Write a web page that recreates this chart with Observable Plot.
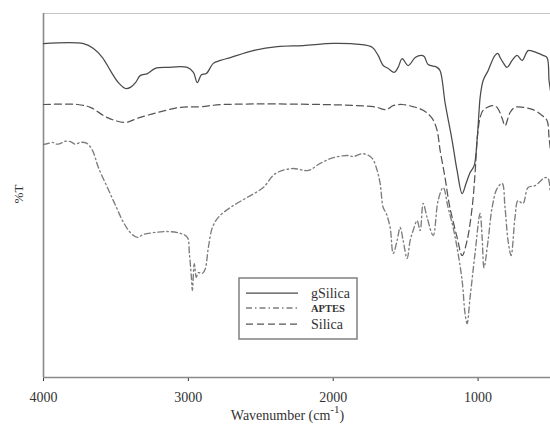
<!DOCTYPE html>
<html>
<head>
<meta charset="utf-8">
<script src="https://cdn.jsdelivr.net/npm/d3@7"></script>
<script src="https://cdn.jsdelivr.net/npm/@observablehq/plot@0.6"></script>
<style>
  html, body { margin: 0; padding: 0; background: #fff; }
  #wrap { position: relative; width: 550px; height: 425px; font-family: "Liberation Serif", "Times New Roman", serif; color: #333; }
  #xlabel { position: absolute; left: 0; width: 575px; text-align: center; top: 408px; font-size: 14px; line-height: 16px; }
  #xlabel sup { font-size: 11px; position: relative; top: -1px; line-height: 0; }
  #ylabel { position: absolute; left: 8px; top: 186px; font-size: 13px; transform: rotate(-90deg); transform-origin: center; width: 22px; text-align: center; }
  #legend { position: absolute; left: 238px; top: 277px; }
</style>
</head>
<body>
<div id="wrap"></div>
<script>
// Wavenumber axis (cm^-1) and tick labels
const xDomain = [4000, 500];
const xTicks = [4000, 3000, 2000, 1000];
const yDomain = [0, 100]; // %T (arbitrary scale, no tick labels)

// gSilica (solid)
const gSilicaWave = [4000,3724,3655,3593,3538,3483,3434,3400,3365,3331,3283,3228,3145,3007,2965,2938,2910,2876,2828,2779,2710,2552,2386,2207,2000,1814,1731,1690,1655,1620,1579,1552,1524,1483,1434,1393,1372,1345,1283,1262,1227,1179,1145,1110,1083,1055,1027,1007,993,986,965,931,883,862,848,827,800,765,731,696,655,621,552,524,510,500];
const gSilicaT = [91.7,91.7,90.4,87.9,84.3,81.0,79.4,79.7,81.0,83.0,83.5,84.9,85.2,85.2,83.8,81.0,83.2,83.5,86.3,87.1,87.9,89.8,90.9,91.2,91.8,91.5,90.7,88.5,85.7,84.9,83.8,85.2,87.6,85.7,87.9,88.5,88.2,86.0,85.2,84.3,75.3,65.1,56.9,50.5,53.3,56.3,58.2,65.1,73.3,76.9,81.6,84.3,88.5,89.0,87.9,86.5,85.2,87.1,88.5,87.1,89.8,89.6,88.5,87.9,81.6,78.8];

// Silica (dashed)
const silicaWave = [4000,3766,3676,3559,3434,3352,3214,3055,2917,2759,1724,1634,1586,1524,1448,1379,1317,1283,1262,1228,1200,1179,1145,1110,1076,1041,1021,1007,1000,986,965,903,869,834,814,779,745,690,621,558,524,510,500];
const silicaT = [75.0,75.0,74.2,71.4,70.1,71.2,72.8,74.2,74.4,75.0,74.4,73.6,74.7,75.0,74.4,73.4,71.2,67.9,62.4,54.9,47.8,44.0,38.5,33.5,37.6,46.7,56.0,65.1,67.9,71.4,73.4,74.7,74.2,71.2,69.2,72.8,74.2,74.2,73.6,72.0,70.6,65.9,62.4];

// APTES (dash-dot)
const aptesWave = [4000,3960,3938,3910,3883,3850,3814,3780,3745,3700,3662,3621,3559,3503,3448,3400,3352,3310,3241,3145,3055,3007,2993,2979,2972,2959,2945,2931,2903,2883,2862,2834,2793,2710,2593,2483,2400,2283,2172,2090,2000,1903,1862,1793,1731,1697,1676,1655,1634,1607,1586,1559,1538,1517,1490,1469,1448,1421,1400,1379,1352,1310,1276,1241,1207,1172,1145,1110,1090,1076,1055,1021,986,972,959,931,903,869,834,814,793,772,745,724,690,655,607,538,517,503];
const aptesT = [64.0,64.4,64.6,64.1,64.3,64.9,64.8,64.1,64.6,64.3,62.4,57.7,52.2,47.3,42.6,39.8,38.5,39.3,39.8,40.1,39.6,38.5,34.1,27.5,23.9,31.3,27.5,28.8,28.6,29.9,35.7,41.2,44.0,46.7,49.5,52.2,56.0,57.4,56.9,58.8,60.4,61.0,60.7,61.5,60.2,56.9,53.3,46.7,45.1,41.2,34.1,37.6,41.2,37.6,32.7,37.6,40.4,43.1,40.4,47.8,44.0,39.0,48.6,52.2,46.7,41.2,35.7,26.6,17.6,14.8,22.0,34.1,45.1,38.5,30.2,37.6,46.7,51.9,53.3,46.7,37.6,33.5,44.0,48.6,47.8,52.2,52.7,54.9,54.7,51.4];

const seriesNames = ["gSilica", "APTES", "Silica"];

const toRows = (w, t) => w.map((v, i) => ({w: v, t: t[i]}));
const gSilica = toRows(gSilicaWave, gSilicaT);
const silica = toRows(silicaWave, silicaT);
const aptes = toRows(aptesWave, aptesT);

const styles = {
  gSilica: {stroke: "#4a4a4a", strokeWidth: 1.25, strokeDasharray: null},
  APTES: {stroke: "#7d7d7d", strokeWidth: 1.35, strokeDasharray: "6,3,1.5,3"},
  Silica: {stroke: "#555", strokeWidth: 1.25, strokeDasharray: "7,4"}
};

const chart = Plot.plot({
  width: 550,
  height: 425,
  marginLeft: 43,
  marginRight: 0,
  marginTop: 13,
  marginBottom: 48,
  style: {fontFamily: "'Liberation Serif', 'Times New Roman', serif", fontSize: "14px", color: "#333", background: "white"},
  x: {domain: xDomain, ticks: xTicks, tickFormat: d => String(d), tickSize: 4, tickPadding: 11, label: null},
  y: {domain: yDomain, axis: null},
  marks: [
    Plot.ruleY([yDomain[1]], {stroke: "#c4c4c4", strokeWidth: 1.2}),
    Plot.ruleY([yDomain[0]], {stroke: "#8a8a8a", strokeWidth: 1.6}),
    Plot.ruleX([xDomain[0]], {stroke: "#8a8a8a", strokeWidth: 1.6}),
    Plot.line(aptes, {x: "w", y: "t", curve: "catmull-rom", ...styles.APTES}),
    Plot.line(silica, {x: "w", y: "t", curve: "catmull-rom", ...styles.Silica}),
    Plot.line(gSilica, {x: "w", y: "t", curve: "catmull-rom", ...styles.gSilica})
  ]
});

const wrap = document.getElementById("wrap");
wrap.appendChild(chart);

const yl = document.createElement("div");
yl.id = "ylabel";
yl.textContent = "%T";
wrap.appendChild(yl);

const xl = document.createElement("div");
xl.id = "xlabel";
xl.innerHTML = "Wavenumber (cm<sup>-1</sup>)";
wrap.appendChild(xl);

// legend box
const ns = "http://www.w3.org/2000/svg";
const lg = document.createElementNS(ns, "svg");
lg.setAttribute("id", "legend");
lg.setAttribute("width", 121);
lg.setAttribute("height", 64);
const rect = document.createElementNS(ns, "rect");
rect.setAttribute("x", 1); rect.setAttribute("y", 1);
rect.setAttribute("width", 118); rect.setAttribute("height", 61);
rect.setAttribute("fill", "white"); rect.setAttribute("stroke", "#888"); rect.setAttribute("stroke-width", 1.6);
lg.appendChild(rect);
const rowsY = [16, 31, 47];
seriesNames.forEach((name, i) => {
  const s = styles[name];
  const ln = document.createElementNS(ns, "line");
  ln.setAttribute("x1", 8); ln.setAttribute("x2", 60);
  ln.setAttribute("y1", rowsY[i]); ln.setAttribute("y2", rowsY[i]);
  ln.setAttribute("stroke", s.stroke); ln.setAttribute("stroke-width", s.strokeWidth);
  if (s.strokeDasharray) ln.setAttribute("stroke-dasharray", s.strokeDasharray);
  lg.appendChild(ln);
  const tx = document.createElementNS(ns, "text");
  tx.setAttribute("x", 73);
  tx.setAttribute("y", rowsY[i] + (name === "APTES" ? 4 : 5));
  tx.setAttribute("font-family", "'Liberation Serif', 'Times New Roman', serif");
  tx.setAttribute("font-size", name === "APTES" ? 10.5 : 14);
  if (name === "APTES") tx.setAttribute("font-weight", "bold");
  tx.setAttribute("fill", "#333");
  tx.textContent = name;
  lg.appendChild(tx);
});
wrap.appendChild(lg);
</script>
</body>
</html>
